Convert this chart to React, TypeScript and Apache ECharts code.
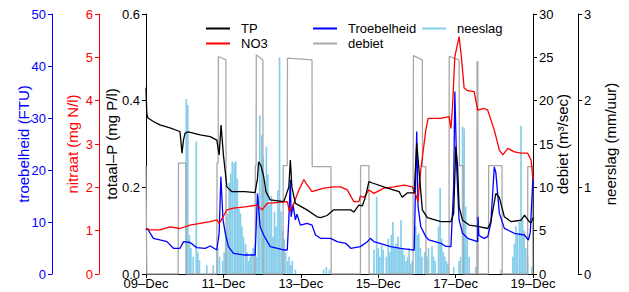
import React, { useEffect, useRef } from "react";
import * as echarts from "echarts";

// x values: days since 09-Dec 00:00
const xTickLabels = ["09–Dec", "11–Dec", "13–Dec", "15–Dec", "17–Dec", "19–Dec"];

// totaal-P (mg P/l)
const tpData: [number, number][] = [
  [0, 0.43], [0.02, 0.37], [0.05, 0.36], [0.19, 0.352], [0.36, 0.344], [0.62, 0.337], [0.84, 0.33],
  [0.88, 0.328], [0.93, 0.279], [0.97, 0.31], [1.01, 0.325], [1.09, 0.328], [1.4, 0.321], [1.66, 0.317],
  [1.83, 0.309], [1.89, 0.275], [1.94, 0.344], [2.0, 0.275], [2.09, 0.201], [2.22, 0.19], [2.56, 0.19],
  [2.82, 0.188], [2.88, 0.22], [2.91, 0.259], [2.97, 0.25], [3.04, 0.225], [3.1, 0.19], [3.21, 0.171],
  [3.56, 0.167], [3.69, 0.2], [3.73, 0.263], [3.77, 0.2], [3.86, 0.163], [4.16, 0.148], [4.42, 0.132],
  [4.51, 0.13], [4.68, 0.135], [4.85, 0.148], [5.03, 0.148], [5.29, 0.148], [5.37, 0.143], [5.5, 0.159],
  [5.59, 0.157], [5.67, 0.178], [5.76, 0.213], [5.85, 0.21], [6.24, 0.198], [6.54, 0.19], [6.62, 0.177],
  [6.75, 0.187], [6.93, 0.187], [6.995, 0.302], [7.05, 0.245], [7.14, 0.148], [7.27, 0.13], [7.62, 0.121],
  [7.88, 0.121], [7.95, 0.14], [8.005, 0.294], [8.05, 0.252], [8.09, 0.155], [8.18, 0.124], [8.35, 0.113],
  [8.57, 0.11], [8.83, 0.105], [8.91, 0.12], [9.04, 0.186], [9.13, 0.177], [9.26, 0.132], [9.43, 0.121],
  [9.69, 0.124], [9.78, 0.136], [9.9, 0.121], [9.95, 0.118], [10.0, 0.13],
];

// nitraat (mg N/l)
const no3Data: [number, number][] = [
  [0, 1.05], [0.1, 1.02], [0.36, 1.02], [0.62, 1.09], [0.88, 1.05], [1.14, 1.13], [1.4, 1.17], [1.66, 1.21],
  [1.83, 1.25], [1.89, 1.17], [1.99, 1.32], [2.09, 1.48], [2.26, 1.52], [2.56, 1.55], [2.87, 1.59],
  [3.0, 1.48], [3.13, 1.63], [3.65, 1.67], [3.71, 1.44], [3.82, 1.63], [3.95, 1.94], [4.08, 2.18],
  [4.16, 2.06], [4.29, 1.9], [4.59, 1.98], [4.85, 2.01], [5.03, 2.01], [5.2, 1.94], [5.37, 1.67],
  [5.5, 1.67], [5.54, 1.8], [5.63, 1.77], [5.76, 1.94], [5.89, 1.86], [6.15, 1.98], [6.41, 2.01],
  [6.67, 2.05], [6.88, 2.01], [6.97, 1.83], [7.03, 1.67], [7.1, 2.4], [7.23, 3.32], [7.29, 3.59],
  [7.62, 3.59], [7.83, 3.63], [7.88, 3.36], [7.92, 3.86], [7.98, 5.01], [8.09, 5.48], [8.15, 5.01],
  [8.22, 4.29], [8.31, 4.23], [8.48, 4.21], [8.57, 3.78], [8.74, 3.82], [8.83, 3.78], [9.0, 3.32],
  [9.13, 2.86], [9.22, 2.75], [9.35, 2.9], [9.52, 2.82], [9.69, 2.79], [9.86, 2.79], [9.95, 2.63],
  [10.0, 2.17],
];

// troebelheid (FTU)
const troebelheidData: [number, number][] = [
  [0, 8.46], [0.03, 8.8], [0.19, 6.86], [0.36, 6.54], [0.54, 6.22], [0.71, 4.94], [0.88, 4.94],
  [0.97, 6.22], [1.14, 6.06], [1.31, 5.07], [1.53, 4.94], [1.66, 5.38], [1.83, 4.62], [1.89, 7.82],
  [1.935, 18.7], [1.99, 10.4], [2.05, 7.82], [2.13, 5.26], [2.26, 3.97], [2.56, 3.65], [2.82, 3.65],
  [2.88, 15.5], [2.95, 9.1], [3.04, 7.5], [3.21, 5.26], [3.56, 4.62], [3.65, 4.62], [3.69, 10.5],
  [3.73, 18.1], [3.75, 11], [3.8, 13.3], [3.86, 10.4], [3.9, 11.5], [3.99, 9.4], [4.16, 9.74],
  [4.29, 9.4], [4.38, 7.5], [4.51, 6.86], [4.77, 6.86], [4.94, 6.22], [5.16, 5.9], [5.29, 4.94],
  [5.54, 5.26], [5.72, 6.22], [5.8, 6.86], [5.89, 6.22], [6.32, 5.26], [6.58, 4.94], [6.88, 4.62],
  [6.93, 4.62], [6.995, 27.4], [7.03, 12.9], [7.1, 9.1], [7.23, 7.18], [7.31, 6.54], [7.62, 5.9],
  [7.75, 5.3], [7.88, 5.26], [7.95, 16.8], [7.98, 35.1], [8.03, 20], [8.09, 10.4], [8.18, 7.82],
  [8.31, 6.86], [8.57, 6.22], [8.58, 11.0], [8.6, 7.5], [8.65, 7.2], [8.74, 6.86], [8.83, 7.2],
  [8.91, 9.74], [9.0, 20.6], [9.04, 19.5], [9.13, 11.7], [9.26, 8.78], [9.52, 7.82], [9.78, 7.5],
  [9.88, 6.54], [9.93, 8], [10.0, 18.7],
];

// debiet (m3/sec)
const debietData: [number, number][] = [
  [0, 12.5], [0.02, 0], [0.83, 0], [0.84, 12.8], [1.03, 12.8], [1.04, 0], [1.83, 0], [1.835, 12.8],
  [1.865, 12.8], [1.87, 25.1], [2.065, 24.7], [2.07, 0], [2.82, 0], [2.825, 12.5], [2.845, 12.5],
  [2.85, 25.3], [3.02, 24.7], [3.025, 0], [3.54, 0], [3.545, 12.5], [3.65, 12.5], [3.655, 24.9],
  [4.29, 24.7], [4.295, 12.4], [4.78, 12.4], [4.785, 0], [5.54, 0], [5.545, 12.5], [5.76, 12.5],
  [5.765, 0], [6.9, 0], [6.91, 25.2], [7.14, 24.7], [7.145, 12.4], [7.23, 12.4], [7.235, 0],
  [7.83, 0], [7.835, 25.1], [8.09, 24.7], [8.1, 12.5], [8.2, 12.5], [8.205, 0], [8.55, 0],
  [8.555, 24.5], [8.575, 24.5], [8.58, 0], [8.85, 0], [8.855, 12.5], [9.2, 12.5], [9.205, 0],
  [9.86, 0], [9.865, 12.4], [9.99, 12.4], [9.995, 0],
];

// neerslag (mm/uur)
const neerslagData: [number, number][] = [
  [1.04, 2.02], [1.08, 1.95], [1.12, 0.45], [1.16, 0.3], [1.22, 0.2], [1.3, 1.53], [1.34, 0.25],
  [1.38, 0.16], [1.57, 0.1], [1.74, 0.1], [1.85, 0.3], [1.9, 0.2], [1.98, 0.15], [2.02, 0.25],
  [2.06, 0.5], [2.11, 0.7], [2.15, 1.05], [2.19, 1.16], [2.23, 1.3], [2.28, 1.28], [2.32, 1.3],
  [2.36, 1.1], [2.4, 0.75], [2.44, 0.7], [2.48, 0.55], [2.52, 0.43], [2.57, 0.35], [2.61, 0.25],
  [2.65, 0.15], [2.69, 0.2], [2.73, 0.24], [2.77, 0.3], [2.81, 0.35], [2.86, 0.2], [2.9, 0.9],
  [2.94, 1.83], [2.99, 1.6], [3.03, 1.35], [3.07, 1.0], [3.11, 1.47], [3.15, 1.15], [3.2, 0.8],
  [3.24, 0.9], [3.28, 0.43], [3.32, 0.72], [3.36, 0.55], [3.41, 0.97], [3.45, 2.5], [3.49, 0.72],
  [3.53, 0.5], [3.57, 0.4], [3.61, 0.25], [3.66, 0.15], [3.7, 0.2], [3.74, 0.1], [3.78, 0.15],
  [3.86, 0.05], [4.59, 0.05], [4.66, 0.08], [4.74, 0.05],
  [5.89, 0.28], [5.96, 0.89], [6.0, 0.3], [6.04, 0.2], [6.09, 0.33], [6.13, 0.28], [6.21, 0.2],
  [6.26, 0.41], [6.3, 0.25], [6.34, 0.45], [6.38, 0.6], [6.42, 0.3], [6.46, 0.35], [6.51, 0.43],
  [6.55, 0.3], [6.59, 0.62], [6.63, 0.3], [6.67, 0.22], [6.72, 0.15], [6.76, 0.2], [6.8, 0.3],
  [6.84, 0.12], [6.88, 0.15], [6.97, 0.55], [7.01, 0.45], [7.05, 0.47], [7.09, 0.3], [7.13, 0.2],
  [7.2, 0.25], [7.26, 0.2], [7.3, 0.3], [7.39, 0.32], [7.43, 0.2], [7.47, 0.15], [7.56, 0.55],
  [7.6, 0.99], [7.64, 0.41], [7.68, 0.25], [7.72, 0.2], [7.76, 0.15], [7.8, 0.12], [7.95, 0.08],
  [8.09, 0.15], [8.13, 0.2], [8.18, 1.7], [8.22, 1.68], [8.26, 0.78], [8.3, 0.4], [8.35, 0.2],
  [8.52, 0.08], [9.17, 0.05], [9.48, 0.2], [9.52, 0.35], [9.56, 0.55], [9.6, 0.45], [9.65, 0.6],
  [9.69, 1.71], [9.73, 0.62], [9.77, 0.5], [9.81, 0.3], [9.86, 0.2], [9.97, 0.08],
];

const FONT = "Liberation Sans, Arial, Helvetica, sans-serif";

function yAxisDef(opts: {
  name: string; color: string; min: number; max: number; interval: number;
  position: "left" | "right"; offset: number; nameGap: number; decimals?: number;
}) {
  return {
    type: "value",
    name: opts.name,
    nameLocation: "middle",
    nameGap: opts.nameGap,
    nameMoveOverlap: false,
    nameTextStyle: { color: opts.color, fontSize: 15, fontFamily: FONT },
    position: opts.position,
    offset: opts.offset,
    min: opts.min,
    max: opts.max,
    interval: opts.interval,
    axisLine: { show: true, onZero: false, lineStyle: { color: opts.color, width: 1 } },
    axisTick: { show: true, length: 4, lineStyle: { color: opts.color, width: 1 } },
    axisLabel: {
      color: opts.color, fontSize: 13, fontFamily: FONT, margin: 6,
      formatter: (v: number) => (opts.decimals ? v.toFixed(opts.decimals) : String(Math.round(v))),
    },
    splitLine: { show: false },
  };
}

export default function App() {
  const ref = useRef<HTMLDivElement>(null);
  useEffect(() => {
    if (!ref.current) return;
    const chart = echarts.init(ref.current, undefined, { renderer: "svg" });
    const legendCommon = {
      orient: "vertical",
      icon: "rect",
      itemWidth: 24,
      itemHeight: 2,
      itemGap: 2,
      padding: 0,
      selectedMode: false,
      textStyle: { fontSize: 13, fontFamily: FONT, color: "#000", lineHeight: 13, padding: [0, 0, 0, 6] },
    };
    chart.setOption({
      animation: false,
      backgroundColor: "#fff",
      grid: { left: 146, right: 96, top: 14, bottom: 18, containLabel: false },
      legend: [
        { ...legendCommon, left: 206, top: 22, data: ["TP", "NO3"] },
        { ...legendCommon, left: 313, top: 22, data: ["Troebelheid", "debiet"] },
        { ...legendCommon, left: 422, top: 22, data: ["neeslag"] },
      ],
      xAxis: {
        type: "value",
        min: 0,
        max: 10,
        interval: 2,
        axisLine: { show: true, onZero: false, lineStyle: { color: "#000", width: 1 } },
        axisTick: { show: true, length: 4, lineStyle: { color: "#000" } },
        axisLabel: {
          color: "#000", fontSize: 13, fontFamily: FONT, margin: 3,
          formatter: (v: number) => xTickLabels[Math.round(v / 2)] ?? "",
        },
        splitLine: { show: false },
      },
      yAxis: [
        yAxisDef({ name: "totaal–P (mg P/l)", color: "#000", min: 0, max: 0.6, interval: 0.2, position: "left", offset: 0, nameGap: 27, decimals: 1 }),
        yAxisDef({ name: "nitraat (mg N/l)", color: "#ff0000", min: 0, max: 6, interval: 1, position: "left", offset: 47, nameGap: 19 }),
        yAxisDef({ name: "troebelheid (FTU)", color: "#0000ff", min: 0, max: 50, interval: 10, position: "left", offset: 94, nameGap: 21 }),
        yAxisDef({ name: "debiet (m³/sec)", color: "#000", min: 0, max: 30, interval: 5, position: "right", offset: 0, nameGap: 22 }),
        yAxisDef({ name: "neerslag (mm/uur)", color: "#000", min: 0, max: 3, interval: 1, position: "right", offset: 45, nameGap: 25 }),
      ],
      series: [
        {
          name: "neeslag", type: "bar", yAxisIndex: 4, data: neerslagData, barWidth: 1.7,
          itemStyle: { color: "#87ceeb" }, z: 1,
        },
        {
          name: "debiet", type: "line", yAxisIndex: 3, data: debietData, showSymbol: false, symbol: "none",
          lineStyle: { color: "#a8a8a8", width: 1.3 }, itemStyle: { color: "#a8a8a8" }, z: 2,
        },
        {
          name: "Troebelheid", type: "line", yAxisIndex: 2, data: troebelheidData, showSymbol: false, symbol: "none",
          lineStyle: { color: "#0000ff", width: 1.3 }, itemStyle: { color: "#0000ff" }, z: 3,
        },
        {
          name: "NO3", type: "line", yAxisIndex: 1, data: no3Data, showSymbol: false, symbol: "none",
          lineStyle: { color: "#ff0000", width: 1.3 }, itemStyle: { color: "#ff0000" }, z: 3,
        },
        {
          name: "TP", type: "line", yAxisIndex: 0, data: tpData, showSymbol: false, symbol: "none",
          lineStyle: { color: "#000", width: 1.3 }, itemStyle: { color: "#000" }, z: 4,
        },
      ],
    });
    return () => chart.dispose();
  }, []);
  return <div ref={ref} style={{ position: "fixed", left: 0, top: 0, width: 629, height: 292 }} />;
}
